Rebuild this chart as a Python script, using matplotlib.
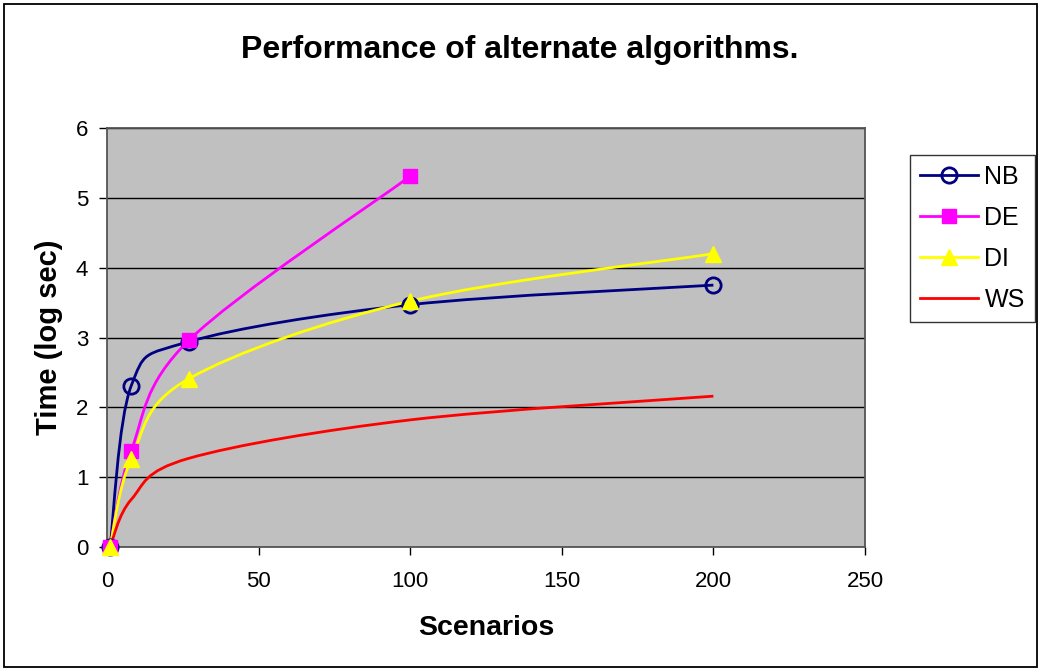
"""
Performance of alternate algorithms: time (log sec) vs number of scenarios.
Excel-style chart with smoothed lines.
"""

import numpy as np
import matplotlib
matplotlib.use("Agg")
import matplotlib.pyplot as plt
from matplotlib.path import Path
from matplotlib.patches import PathPatch, Rectangle
from matplotlib.lines import Line2D

plt.rcParams["font.family"] = ["Liberation Sans", "DejaVu Sans"]

# ================================================================
# DATA
# ================================================================

nb_x = [1, 8, 27, 100, 200]
nb_y = [0.0, 2.31, 2.94, 3.47, 3.75]

de_x = [1, 8, 27, 100]
de_y = [0.0, 1.38, 2.96, 5.31]

di_x = [1, 8, 27, 100, 200]
di_y = [0.0, 1.26, 2.41, 3.52, 4.20]

ws_x = [1, 8, 27, 100, 200]
ws_y = [0.0, 0.68, 1.27, 1.82, 2.16]

series_names = ["NB", "DE", "DI", "WS"]

x_ticks = [0, 50, 100, 150, 200, 250]
y_ticks = [0, 1, 2, 3, 4, 5, 6]


# ================================================================
# HELPERS
# ================================================================

def smooth_path(xs, ys):
    """Excel-like smoothed line: Catmull-Rom segments as cubic Beziers."""
    pts = np.column_stack([xs, ys]).astype(float)
    n = len(pts)
    verts = [pts[0]]
    codes = [Path.MOVETO]
    for i in range(n - 1):
        p0 = pts[i - 1] if i > 0 else pts[i]
        p1 = pts[i]
        p2 = pts[i + 1]
        p3 = pts[i + 2] if i + 2 < n else pts[i + 1]
        c1 = p1 + (p2 - p0) / 6.0
        c2 = p2 - (p3 - p1) / 6.0
        verts += [c1, c2, p2]
        codes += [Path.CURVE4] * 3
    return Path(verts, codes)


# ================================================================
# PLOT
# ================================================================

W, H = 1040, 670
fig = plt.figure(figsize=(W / 100, H / 100), dpi=100)
fig.patch.set_facecolor("white")
fig.add_artist(Rectangle((4 / W, 3 / H), 1033 / W, 663 / H, transform=fig.transFigure,
                         fill=False, edgecolor="black", linewidth=1.3))

ax = fig.add_axes([107 / W, 1 - 547 / H, (865 - 107) / W, (547 - 128) / H])
ax.set_facecolor("#C0C0C0")

styles = [
    (nb_x, nb_y, "#000080", dict(marker="o", markersize=11, markerfacecolor="none",
                                  markeredgewidth=2, markeredgecolor="#000080")),
    (de_x, de_y, "#FF00FF", dict(marker="s", markersize=10, markerfacecolor="#FF00FF",
                                  markeredgecolor="#FF00FF")),
    (di_x, di_y, "#FFFF00", dict(marker="^", markersize=12, markerfacecolor="#FFFF00",
                                  markeredgecolor="#FFFF00")),
    (ws_x, ws_y, "#FF0000", dict(marker="None")),
]

handles = []
for (xs, ys, color, mk), name in zip(styles, series_names):
    ax.add_patch(PathPatch(smooth_path(xs, ys), facecolor="none", edgecolor=color,
                           linewidth=2, zorder=3))
    if mk["marker"] != "None":
        ax.plot(xs, ys, linestyle="none", zorder=4, clip_on=False, **mk)
    handles.append(Line2D([], [], color=color, linewidth=2, label=name, **mk))

ax.set_xlim(0, 250)
ax.set_ylim(0, 6)
ax.set_xticks(x_ticks)
ax.set_yticks(y_ticks)
ax.tick_params(labelsize=16, direction="out", length=5.5, width=1, color="black")
ax.tick_params(axis="x", pad=12)
ax.tick_params(axis="y", pad=8)
ax.grid(axis="y", color="black", linewidth=1)
ax.set_axisbelow(True)
for sp in ax.spines.values():
    sp.set_color("#555555")
    sp.set_linewidth(1.3)

ax.set_xlabel("Scenarios", fontsize=20.5, fontweight="bold", labelpad=16)
ax.set_ylabel("Time (log sec)", fontsize=21, fontweight="bold", labelpad=9)
fig.text(0.5, 1 - 50 / H, "Performance of alternate algorithms.", ha="center",
         va="center", fontsize=23, fontweight="bold")

leg = fig.legend(handles=handles, loc="upper left",
                 bbox_to_anchor=(910 / W, 1 - 155 / H), fontsize=18,
                 frameon=True, fancybox=False, edgecolor="black", handlelength=2.3,
                 borderpad=0.4, labelspacing=0.68, handletextpad=0.28,
                 borderaxespad=0)
leg.get_frame().set_linewidth(1)

fig.savefig("out.png", dpi=100)
